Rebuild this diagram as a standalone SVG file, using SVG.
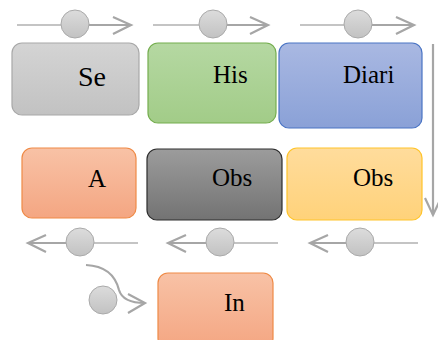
<svg xmlns="http://www.w3.org/2000/svg" width="438" height="340" viewBox="0 0 438 340">
<style>
.t{font-family:"Liberation Serif","Times New Roman",serif;font-size:25px;fill:#000}
.box{stroke-width:1.2}
.ln{fill:none;stroke:#b0b0b0;stroke-width:1.3}
.ah{fill:none;stroke:#a6a6a6;stroke-width:2.2}
.dot{fill:url(#gc);stroke:#aaaaaa;stroke-width:1}
</style>
<defs>
<linearGradient id="gc" x1="0" y1="0" x2="0" y2="1"><stop offset="0" stop-color="#dcdcdc"/><stop offset="1" stop-color="#c2c2c2"/></linearGradient>
<linearGradient id="g1" x1="0" y1="0" x2="0" y2="1"><stop offset="0" stop-color="#d4d4d4"/><stop offset="1" stop-color="#c2c2c2"/></linearGradient>
<linearGradient id="g2" x1="0" y1="0" x2="0" y2="1"><stop offset="0" stop-color="#b5d8a2"/><stop offset="1" stop-color="#a2cc88"/></linearGradient>
<linearGradient id="g3" x1="0" y1="0" x2="0" y2="1"><stop offset="0" stop-color="#a9b8e2"/><stop offset="1" stop-color="#8aa1d7"/></linearGradient>
<linearGradient id="g4" x1="0" y1="0" x2="0" y2="1"><stop offset="0" stop-color="#f8c2a6"/><stop offset="1" stop-color="#f4a682"/></linearGradient>
<linearGradient id="g5" x1="0" y1="0" x2="0" y2="1"><stop offset="0" stop-color="#9c9c9c"/><stop offset="1" stop-color="#737373"/></linearGradient>
<linearGradient id="g6" x1="0" y1="0" x2="0" y2="1"><stop offset="0" stop-color="#ffdc9c"/><stop offset="1" stop-color="#ffd27a"/></linearGradient>
</defs>

<g id="connectors">
  <g id="c1">
    <line class="ln" x1="17" y1="25" x2="61" y2="25"/>
    <line class="ah" x1="89" y1="25" x2="131" y2="25"/>
    <polyline class="ah" points="113,17 131,25 113,34"/>
    <circle class="dot" cx="75" cy="24" r="14"/>
  </g>
  <g id="c2">
    <line class="ln" x1="153" y1="25" x2="199" y2="25"/>
    <line class="ah" x1="227" y1="25" x2="268" y2="25"/>
    <polyline class="ah" points="250,17 268,25 250,34"/>
    <circle class="dot" cx="213" cy="24" r="14"/>
  </g>
  <g id="c3">
    <line class="ln" x1="300" y1="25" x2="344" y2="25"/>
    <line class="ah" x1="372" y1="25" x2="414" y2="25"/>
    <polyline class="ah" points="396,17 414,25 396,34"/>
    <circle class="dot" cx="358" cy="24" r="14"/>
  </g>
  <g id="c4">
    <line class="ah" x1="433" y1="44" x2="433" y2="215"/>
    <polyline class="ah" points="425,198 433,215 441,198"/>
  </g>
  <g id="c5">
    <line class="ln" x1="372" y1="243" x2="418" y2="243"/>
    <line class="ah" x1="310" y1="243" x2="346" y2="243"/>
    <polyline class="ah" points="328,235 310,243 328,252"/>
    <circle class="dot" cx="360" cy="242" r="14"/>
  </g>
  <g id="c6">
    <line class="ln" x1="234" y1="243" x2="278" y2="243"/>
    <line class="ah" x1="168" y1="243" x2="206" y2="243"/>
    <polyline class="ah" points="186,235 168,243 186,252"/>
    <circle class="dot" cx="220" cy="242" r="14"/>
  </g>
  <g id="c7">
    <line class="ln" x1="94" y1="243" x2="138" y2="243"/>
    <line class="ah" x1="28" y1="243" x2="66" y2="243"/>
    <polyline class="ah" points="46,235 28,243 46,252"/>
    <circle class="dot" cx="80" cy="242" r="14"/>
  </g>
  <g id="c8">
    <circle class="dot" cx="103" cy="300" r="14"/>
    <path class="ah" d="M86,265 C108,266 116,278 119,290 C122,300 132,303 145,303"/>
    <polyline class="ah" points="128,294 145,303 128,313"/>
  </g>
</g>

<g id="n1"><rect class="box" x="12" y="43" width="127" height="72" rx="10" fill="url(#g1)" stroke="#a8a8a8"/><text class="t" x="78" y="86" style="font-size:28px">Se</text></g>
<g id="n2"><rect class="box" x="148" y="43" width="128" height="80" rx="10" fill="url(#g2)" stroke="#75ae4f"/><text class="t" x="213" y="83">His</text></g>
<g id="n3"><rect class="box" x="279" y="43" width="143" height="85" rx="10" fill="url(#g3)" stroke="#4a74c4"/><text class="t" x="343" y="83">Diari</text></g>
<g id="n4"><rect class="box" x="22" y="148" width="114" height="70" rx="10" fill="url(#g4)" stroke="#ef8a46"/><text class="t" x="88" y="187">A</text></g>
<g id="n5"><rect class="box" x="147" y="149" width="135" height="71" rx="10" fill="url(#g5)" stroke="#2e2e2e"/><text class="t" x="212" y="186">Obs</text></g>
<g id="n6"><rect class="box" x="287" y="148" width="135" height="72" rx="10" fill="url(#g6)" stroke="#ffc42a"/><text class="t" x="353" y="186">Obs</text></g>
<g id="n7"><rect class="box" x="158" y="273" width="115" height="75" rx="10" fill="url(#g4)" stroke="#ef8a46"/><text class="t" x="224" y="311">In</text></g>
</svg>
